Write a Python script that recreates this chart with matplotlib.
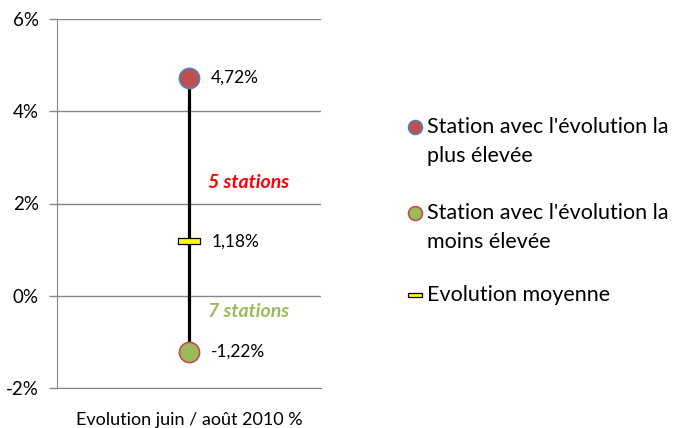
import numpy as np
import matplotlib.pyplot as plt
from matplotlib.path import Path
from matplotlib.lines import Line2D

# data
categories = ["Evolution juin / août 2010 %"]
max_vals = [4.72]
min_vals = [-1.22]
mean_vals = [1.18]
n_above = ["5 stations"]
n_below = ["7 stations"]
legend_labels = [["Station avec l'évolution la", "plus élevée"],
                 ["Station avec l'évolution la", "moins élevée"],
                 ["Evolution moyenne"]]

plt.rcParams['font.family'] = ['Lato', 'DejaVu Sans']

W, H = 674, 428
fig = plt.figure(figsize=(W / 100, H / 100), dpi=100)
ax = fig.add_axes([57 / W, 1 - 388 / H, 264 / W, 369 / H])

x = np.arange(len(categories))

# vertical range line
ax.vlines(x, min_vals, max_vals, color='black', lw=2.3, zorder=2)

rect = Path([(-1, -0.27), (1, -0.27), (1, 0.27), (-1, 0.27), (-1, -0.27)],
            [Path.MOVETO, Path.LINETO, Path.LINETO, Path.LINETO, Path.CLOSEPOLY])

styles = [dict(marker='o', mfc='#C0504D', mec='#4F81BD', mew=1.2),
          dict(marker='o', mfc='#9BBB59', mec='#C0504D', mew=1.2),
          dict(marker=rect, mfc='#FFFF00', mec='black', mew=0.9)]

ax.plot(x, max_vals, ls='none', ms=14.5, zorder=3, **styles[0])
ax.plot(x, min_vals, ls='none', ms=14.5, zorder=3, **styles[1])
ax.plot(x, mean_vals, ls='none', ms=16.5, zorder=3, **styles[2])

for vals in (max_vals, mean_vals, min_vals):
    for xi, v in zip(x, vals):
        ax.annotate(f"{v:.2f}%".replace('.', ','), (xi, v), xytext=(16, 0),
                    textcoords='offset points', va='center', ha='left', fontsize=12.5)

for xi, t in zip(x, n_above):
    ax.annotate(t, (xi, 2.46), xytext=(14, 0), textcoords='offset points',
                va='center', ha='left', fontsize=14, fontweight='bold',
                fontstyle='italic', color='#FF0000')
for xi, t in zip(x, n_below):
    ax.annotate(t, (xi, -0.35), xytext=(14, 0), textcoords='offset points',
                va='center', ha='left', fontsize=14, fontweight='bold',
                fontstyle='italic', color='#9BBB59')

ax.set_xlim(-0.5, 0.5)
ax.set_ylim(-2, 6)
ax.set_yticks([-2, 0, 2, 4, 6])
ax.set_yticklabels([f"{t}%" for t in [-2, 0, 2, 4, 6]], fontsize=13.5)
ax.set_xticks(x)
ax.set_xticklabels(categories, fontsize=13)
ax.tick_params(axis='x', length=0, pad=17)
ax.tick_params(axis='y', length=6, width=1, color='#868686', pad=7)
ax.grid(axis='y', color='#868686', lw=1)
ax.set_axisbelow(True)
for s in ['top', 'right']:
    ax.spines[s].set_visible(False)
ax.spines['left'].set_color('#868686')
ax.spines['bottom'].set_color('#868686')

# legend drawn by hand: marker on the first line of each entry
legend_y = [127, 213, 295]
handle_ms = [10, 10, 9.5]
for st, ms, y0, lines in zip(styles, handle_ms, legend_y, legend_labels):
    fig.add_artist(Line2D([415 / W], [1 - y0 / H], ls='none', ms=ms,
                          transform=fig.transFigure, **st))
    for k, line in enumerate(lines):
        fig.text(427 / W, 1 - (y0 + 29 * k) / H, line, fontsize=15.5,
                 va='center', ha='left')

fig.savefig('out.png', dpi=100)
